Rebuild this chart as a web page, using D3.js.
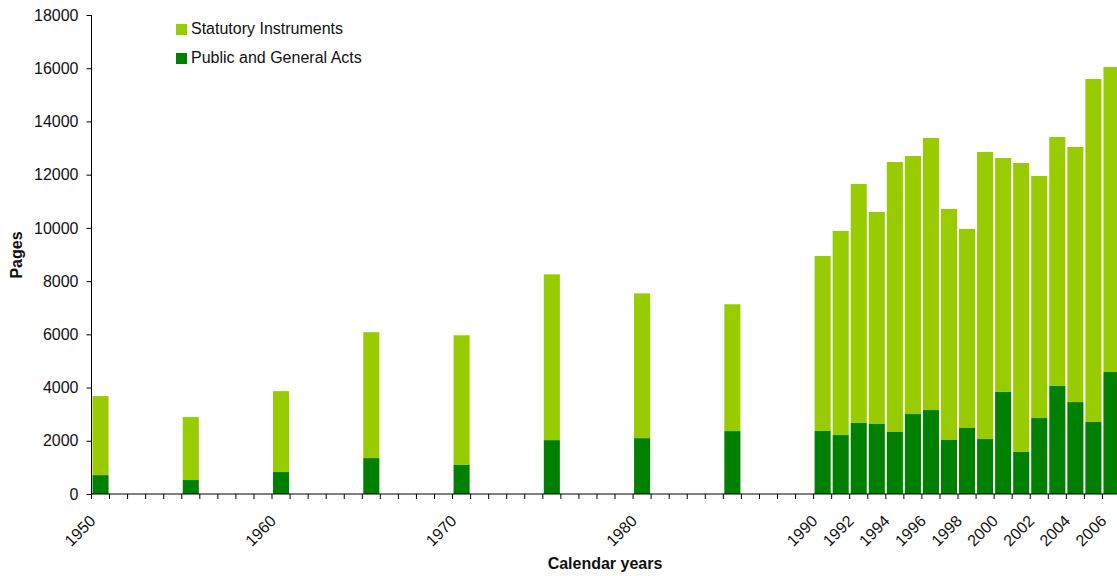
<!DOCTYPE html>
<html>
<head>
<meta charset="utf-8">
<script src="https://cdn.jsdelivr.net/npm/d3@7"></script>
<style>
  html, body { margin: 0; padding: 0; background: #fff; }
  svg { display: block; font-family: "Liberation Sans", Arial, sans-serif; }
</style>
</head>
<body>
<svg id="chart" width="1117" height="576"></svg>
<script>
// ---- data ----
const dataYears = [1950, 1955, 1960, 1965, 1970, 1975, 1980, 1985,
  1990, 1991, 1992, 1993, 1994, 1995, 1996, 1997, 1998, 1999,
  2000, 2001, 2002, 2003, 2004, 2005, 2006];
const publicGeneralActs = [710, 525, 825, 1350, 1090, 2025, 2100, 2365,
  2370, 2215, 2670, 2630, 2330, 3005, 3155, 2030, 2480, 2065,
  3835, 1580, 2855, 4060, 3455, 2705, 4585];
const statutoryInstruments = [2970, 2365, 3040, 4730, 4875, 6230, 5440, 4765,
  6575, 7670, 8980, 7970, 10145, 9695, 10225, 8680, 7480, 10790,
  8790, 10860, 9095, 9355, 9585, 12890, 11460];
const firstYear = 1950, lastYear = 2006;
const xTickLabels = [1950, 1960, 1970, 1980, 1990, 1992, 1994, 1996, 1998, 2000, 2002, 2004, 2006];
const yTicks = [0, 2000, 4000, 6000, 8000, 10000, 12000, 14000, 16000, 18000];
const seriesNames = ["Public and General Acts", "Statutory Instruments"];
const colors = { "Public and General Acts": "#008000", "Statutory Instruments": "#99CC00" };

// ---- layout ----
const svg = d3.select("#chart");
const mLeft = 91.5, mTop = 15, mBottom = 494, mRight = 1120.5;

const allYears = d3.range(firstYear, lastYear + 1);
const x = d3.scaleBand().domain(allYears).range([mLeft, mRight]).paddingInner(0.11).paddingOuter(0.055);
const xb = d3.scaleBand().domain(allYears).range([mLeft, mRight]); // for tick positions
const y = d3.scaleLinear().domain([0, 18000]).range([mBottom, mTop]);

const rows = dataYears.map((yr, i) => ({
  year: yr,
  "Public and General Acts": publicGeneralActs[i],
  "Statutory Instruments": statutoryInstruments[i]
}));
const stacked = d3.stack().keys(seriesNames)(rows);

// bars
svg.append("g").selectAll("g").data(stacked).join("g")
  .attr("fill", d => colors[d.key])
  .selectAll("rect").data(d => d).join("rect")
  .attr("x", d => x(d.data.year))
  .attr("width", x.bandwidth())
  .attr("y", d => y(d[1]))
  .attr("height", d => y(d[0]) - y(d[1]));

// y axis
const yAxis = svg.append("g").attr("transform", `translate(${mLeft},0)`)
  .call(d3.axisLeft(y).tickValues(yTicks).tickSize(5).tickPadding(8).tickFormat(d3.format("d")));
yAxis.select(".domain").attr("stroke", "#000").attr("d", `M0,${mTop}V${mBottom}`);
yAxis.selectAll(".tick line").attr("stroke", "#000");
yAxis.selectAll(".tick text").attr("font-size", 16).attr("fill", "#111")
  .attr("font-family", "Liberation Sans, Arial, sans-serif");

// x axis line + ticks at band boundaries
const xg = svg.append("g");
xg.append("line").attr("x1", mLeft).attr("x2", mRight).attr("y1", mBottom).attr("y2", mBottom)
  .attr("stroke", "#000").attr("stroke-width", 1);
const boundaries = allYears.map(yr => xb(yr)).concat([mRight]);
xg.selectAll("line.tk").data(boundaries).join("line").attr("class", "tk")
  .attr("x1", d => d).attr("x2", d => d).attr("y1", mBottom).attr("y2", mBottom + 5)
  .attr("stroke", "#000").attr("stroke-width", 1);
xg.selectAll("text").data(xTickLabels).join("text")
  .attr("transform", d => `translate(${xb(d) + xb.bandwidth() / 2 - 4},${mBottom + 28}) rotate(-45)`)
  .attr("text-anchor", "end")
  .attr("font-size", 16)
  .attr("fill", "#111")
  .text(d => d);

// axis titles
svg.append("text").attr("x", 605).attr("y", 569).attr("text-anchor", "middle")
  .attr("font-size", 16).attr("font-weight", "bold").attr("fill", "#111").text("Calendar years");
svg.append("text").attr("transform", "translate(22,255) rotate(-90)").attr("text-anchor", "middle")
  .attr("font-size", 16).attr("font-weight", "bold").attr("fill", "#111").text("Pages");

// legend
const legendItems = ["Statutory Instruments", "Public and General Acts"];
const lg = svg.append("g");
legendItems.forEach((name, i) => {
  const gy = 24 + i * 29;
  lg.append("rect").attr("x", 176).attr("y", gy).attr("width", 11).attr("height", 11).attr("fill", colors[name]);
  lg.append("text").attr("x", 191).attr("y", gy + 10).attr("font-size", 16).attr("fill", "#111").text(name);
});
</script>
</body>
</html>
